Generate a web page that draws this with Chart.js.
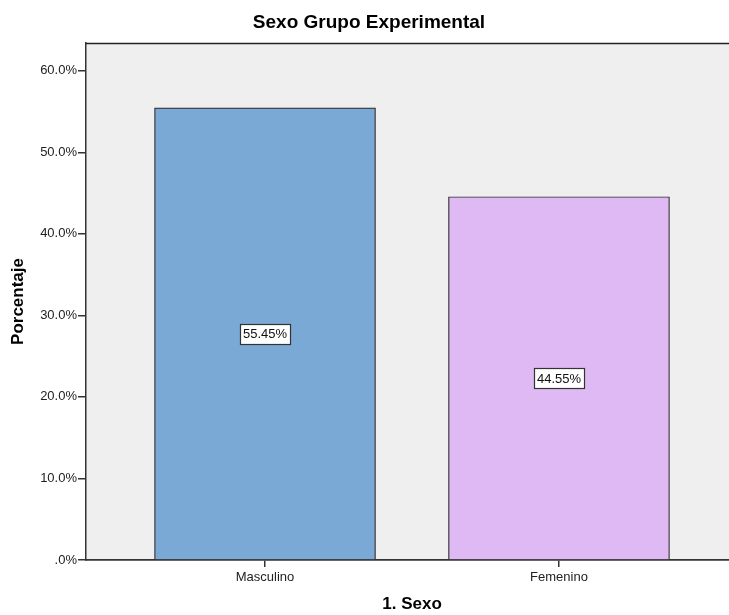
<!DOCTYPE html>
<html>
<head>
<meta charset="utf-8">
<script src="https://cdn.jsdelivr.net/npm/chart.js@4/dist/chart.umd.min.js"></script>
<style>
  html, body { margin: 0; padding: 0; background: #fff; overflow: hidden; }
  #wrap { position: relative; width: 740px; height: 615px; }
</style>
</head>
<body>
<div id="wrap"><canvas id="chart"></canvas></div>
<script>
const categories = ['Masculino', 'Femenino'];
const percentages = [55.45, 44.55];
const barColors = ['#7ba9d6', '#dfb9f3'];
const yTicks = [0, 10, 20, 30, 40, 50, 60];

const FONT = '"Liberation Sans", Arial, sans-serif';

// gray plot background + top frame line
const plotBackground = {
  id: 'plotBackground',
  beforeDraw(chart) {
    const { ctx, chartArea: a } = chart;
    ctx.save();
    ctx.fillStyle = '#efefef';
    ctx.fillRect(a.left, a.top, a.right - a.left, a.bottom - a.top);
    ctx.restore();
  },
  afterDraw(chart) {
    const { ctx, chartArea: a } = chart;
    ctx.save();
    ctx.strokeStyle = '#222';
    ctx.lineWidth = 1.5;
    ctx.beginPath();
    ctx.moveTo(a.left, a.top + 0.5);
    ctx.lineTo(a.right, a.top + 0.5);
    ctx.stroke();
    ctx.restore();
  }
};

// boxed value labels in the middle of each bar
const boxLabels = {
  id: 'boxLabels',
  afterDatasetsDraw(chart) {
    const { ctx } = chart;
    const meta = chart.getDatasetMeta(0);
    ctx.save();
    ctx.font = '13px ' + FONT;
    ctx.textAlign = 'center';
    ctx.textBaseline = 'middle';
    meta.data.forEach((bar, i) => {
      const text = percentages[i].toFixed(2) + '%';
      const w = Math.round(ctx.measureText(text).width + 6);
      const h = 20;
      const x = bar.x;
      const y = (bar.y + bar.base) / 2;
      const bx = Math.round(x - w / 2) + 0.5;
      const by = Math.round(y - h / 2) + 0.5;
      ctx.fillStyle = '#fff';
      ctx.fillRect(bx, by, w, h);
      ctx.strokeStyle = '#333';
      ctx.lineWidth = 1.2;
      ctx.strokeRect(bx, by, w, h);
      ctx.fillStyle = '#111';
      ctx.fillText(text, x, y + 1);
    });
    ctx.restore();
  }
};

new Chart(document.getElementById('chart'), {
  type: 'bar',
  data: {
    datasets: [{
      data: percentages.map((v, i) => ({ x: i, y: v })),
      backgroundColor: barColors,
      borderColor: '#2a2a2a',
      borderWidth: 1.2,
      barThickness: 221
    }]
  },
  options: {
    responsive: true,
    maintainAspectRatio: false,
    animation: false,
    layout: { padding: { left: 0, right: 2, top: 0, bottom: 0 } },
    plugins: {
      legend: { display: false },
      tooltip: { enabled: false },
      title: {
        display: true,
        text: 'Sexo Grupo Experimental',
        color: '#000',
        font: { family: FONT, size: 19, weight: 'bold' },
        padding: { top: 11.6, bottom: 8.6 }
      }
    },
    scales: {
      x: {
        type: 'linear',
        min: -0.609,
        max: 1.609,
        offset: false,
        afterBuildTicks(scale) { scale.ticks = categories.map((c, i) => ({ value: i })); },
        afterFit(scale) { scale.height = 55; },
        ticks: {
          callback: (v) => categories[v],
          color: '#222',
          padding: 3,
          maxRotation: 0,
          autoSkip: false,
          font: { family: FONT, size: 13 }
        },
        grid: { drawOnChartArea: false, drawTicks: true, tickLength: 7, color: '#333', lineWidth: 1.5, offset: false },
        border: { display: true, color: '#333', width: 1.8 },
        title: {
          display: true,
          text: '1. Sexo',
          color: '#000',
          font: { family: FONT, size: 17, weight: 'bold' },
          padding: { top: 0, bottom: 0 }
        }
      },
      y: {
        min: 0,
        max: 63.4,
        afterBuildTicks(scale) { scale.ticks = yTicks.map(v => ({ value: v })); },
        afterFit(scale) { scale.width = 86; },
        ticks: {
          callback: (v) => (v === 0 ? '.0%' : v.toFixed(1) + '%'),
          color: '#222',
          padding: 1,
          font: { family: FONT, size: 13 }
        },
        grid: { drawOnChartArea: false, drawTicks: true, tickLength: 8, color: '#333', lineWidth: 1.5 },
        border: { display: true, color: '#333', width: 1.5 },
        title: {
          display: true,
          text: 'Porcentaje',
          color: '#000',
          font: { family: FONT, size: 17, weight: 'bold' },
          padding: { top: 8, bottom: 0 }
        }
      }
    }
  },
  plugins: [plotBackground, boxLabels]
});
</script>
</body>
</html>
